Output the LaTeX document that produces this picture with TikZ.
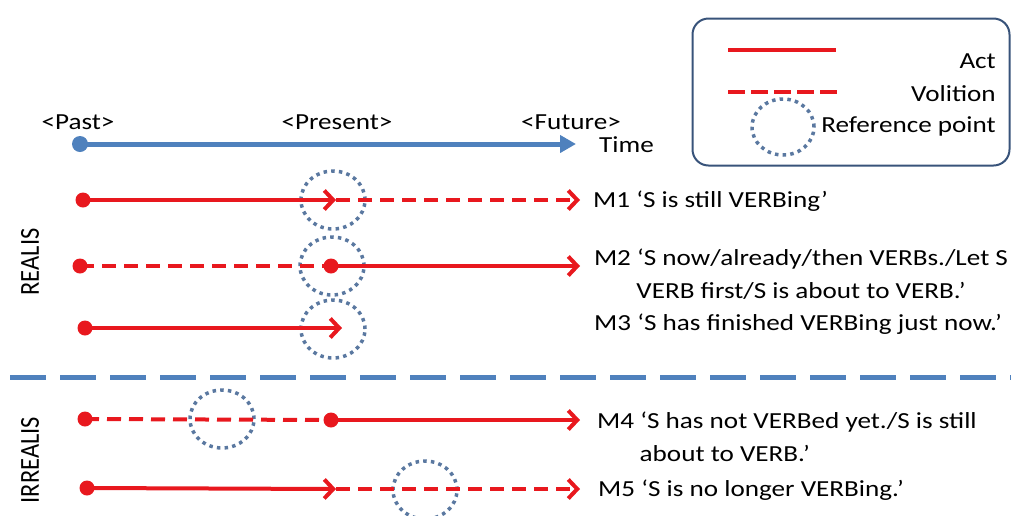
\documentclass[tikz,border=0pt]{standalone}
\usepackage{fontspec}
\setmainfont{Carlito}
\usetikzlibrary{arrows.meta,shapes.geometric}
\definecolor{actred}{RGB}{232,24,30}
\definecolor{timeblue}{RGB}{79,129,189}
\definecolor{refblue}{RGB}{90,120,160}
\definecolor{boxblue}{RGB}{56,83,122}
\begin{document}
\begin{tikzpicture}[x=1pt,y=-1pt,
  every node/.style={inner sep=0pt},
  txt/.style={font=\fontsize{23}{32.5}\selectfont, xscale=1.18},
  rtxt/.style={font=\fontsize{24.5}{28}\selectfont, rotate=90, yscale=1.12},
  act/.style={draw=actred, line width=4pt},
  vol/.style={draw=actred, line width=4pt, dash pattern=on 14pt off 8pt},
  chev/.style={-{Straight Barb[length=9pt,width=19pt,line width=4pt]}},
  reddot/.style={circle, fill=actred, minimum size=15pt, inner sep=0pt},
  refpt/.style={ellipse, draw=refblue, line width=3.5pt, dash pattern=on 3.5pt off 4.2pt, minimum width=64pt, minimum height=58pt, inner sep=0pt},
  lbl/.style={txt, anchor=west}
]
\useasboundingbox (0,0) rectangle (1011,515);
% time axis
\node[circle, fill=timeblue, minimum size=16pt] (t0) at (80,144) {};
\coordinate (t1) at (576,144);
\draw[draw=timeblue, line width=5pt, -{Triangle[length=16pt,width=17pt]}] (t0.center) -- (t1);
\node[txt] (past) at (78,122) {<Past>};
\node[txt] (present) at (337,122) {<Present>};
\node[txt] (future) at (571,122) {<Future>};
\node[lbl] (time) at (599,145) {Time};
% legend
\node[draw=boxblue, line width=2pt, rounded corners=16pt, minimum width=317pt, minimum height=147pt] (legend) at (851,92) {};
\coordinate (la0) at (728,50); \coordinate (la1) at (836,50);
\draw[act] (la0) -- (la1);
\coordinate (lv0) at (728,92); \coordinate (lv1) at (838,92);
\draw[vol, dash pattern=on 17pt off 6pt] (lv0) -- (lv1);
\node[refpt, minimum width=62pt, minimum height=56pt] (lref) at (783,127) {};
\node[txt, anchor=east] (lact) at (996,61) {Act};
\node[txt, anchor=east] (lvol) at (996,94) {Volition};
\node[txt, anchor=east] (lrp) at (996,126) {Reference point};
% side labels
\node[rtxt] (realis) at (30,262) {REALIS};
\node[rtxt] (irrealis) at (30,460) {IRREALIS};
% separator
\coordinate (s0) at (10,377); \coordinate (s1) at (1011,377);
\draw[draw=timeblue, line width=5pt, dash pattern=on 36pt off 14pt] (s0) -- (s1);
% M1
\node[reddot] (m1a) at (83,200) {};
\coordinate (m1b) at (336,200);
\coordinate (m1c) at (580,200);
\node[refpt] (r1) at (333,200) {};
\draw[act, chev] (m1a.center) -- (m1b);
\draw[vol, chev] (m1b) -- (m1c);
\node[lbl] (l1) at (593,201) {M1 ‘S is still VERBing’};
% M2
\node[reddot] (m2a) at (80,266) {};
\node[reddot] (m2b) at (331,266) {};
\coordinate (m2c) at (580,266);
\node[refpt] (r2) at (332,266) {};
\draw[vol] (m2a.center) -- (m2b.center);
\draw[act, chev] (m2b.center) -- (m2c);
\node[txt, align=center] (l2) at (801,274) {M2 ‘S now/already/then VERBs./Let S\\VERB first/S is about to VERB.’};
% M3
\node[reddot] (m3a) at (85,328) {};
\coordinate (m3b) at (342,328);
\node[refpt] (r3) at (333,329) {};
\draw[act, chev] (m3a.center) -- (m3b);
\node[lbl] (l3) at (594,324) {M3 ‘S has finished VERBing just now.’};
% M4
\node[reddot] (m4a) at (85,419) {};
\node[reddot] (m4b) at (331,420) {};
\coordinate (m4c) at (580,420);
\node[refpt] (r4) at (222,419) {};
\draw[vol] (m4a.center) -- (m4b.center);
\draw[act, chev] (m4b.center) -- (m4c);
\node[lbl, align=left] (l4) at (597,437) {M4 ‘S has not VERBed yet./S is still\\\hspace*{36pt}about to VERB.’};
% M5
\node[reddot] (m5a) at (87,488) {};
\coordinate (m5b) at (336,489);
\coordinate (m5c) at (580,489);
\node[refpt] (r5) at (425,490) {};
\draw[act, chev] (m5a.center) -- (m5b);
\draw[vol, chev] (m5b) -- (m5c);
\node[lbl] (l5) at (598,490) {M5 ‘S is no longer VERBing.’};
\end{tikzpicture}
\end{document}
